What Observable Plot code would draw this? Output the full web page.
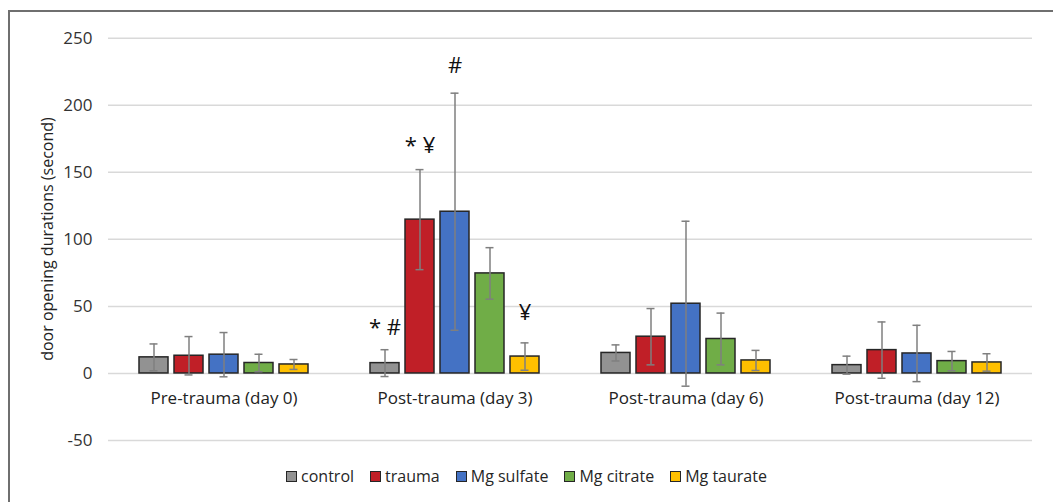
<!DOCTYPE html>
<html>
<head>
<meta charset="utf-8">
<script src="https://cdn.jsdelivr.net/npm/d3@7"></script>
<script src="https://cdn.jsdelivr.net/npm/@observablehq/plot@0.6"></script>
<style>
  html, body { margin: 0; padding: 0; background: #fff; }
  #root { position: relative; width: 1053px; height: 502px; overflow: hidden; font-family: "Open Sans", "Liberation Sans", sans-serif; }
  #frame { position: absolute; left: 8px; top: 10px; width: 1100px; height: 600px; border-left: 2px solid #6f6f6f; border-top: 2px solid #6f6f6f; }
  #chart { position: absolute; left: 0; top: 0; }
  #ylabel { position: absolute; left: 47px; top: 239px; transform: translate(-50%, -50%) rotate(-90deg); white-space: nowrap; font-size: 16px; color: #222; }
  #legend { position: absolute; top: 465px; left: 0; width: 1053px; display: flex; justify-content: center; font-size: 16px; color: #262626; }
  .item { display: flex; align-items: center; margin: 0 8px; }
  .sw { width: 9px; height: 9px; border: 1.5px solid #262626; margin-right: 4px; }
</style>
</head>
<body>
<div id="root">
  <div id="frame"></div>
  <div id="chart"></div>
  <div id="ylabel"></div>
  <div id="legend"></div>
</div>
<script>
const groups = ["Pre-trauma (day 0)", "Post-trauma (day 3)", "Post-trauma (day 6)", "Post-trauma (day 12)"];
const series = ["control", "trauma", "Mg sulfate", "Mg citrate", "Mg taurate"];
const colors = ["#929292", "#c01f27", "#4472c4", "#70ad47", "#ffc000"];
// means per series, across the four groups
const means = {
  "control":    [12, 7.7, 15.3, 6.2],
  "trauma":     [13.2, 114.7, 27.4, 17.4],
  "Mg sulfate": [14, 120.6, 52, 14.9],
  "Mg citrate": [7.8, 74.6, 25.7, 9.2],
  "Mg taurate": [6.7, 12.6, 9.7, 8.2]
};
// standard deviations per series, across the four groups
const sds = {
  "control":    [10, 10, 6, 6.7],
  "trauma":     [14.3, 37.3, 21, 21],
  "Mg sulfate": [16.5, 88.4, 61.5, 21],
  "Mg citrate": [6.5, 19.2, 19.3, 7.2],
  "Mg taurate": [3.7, 10.2, 7.5, 6.5]
};
const annotGroup = ["Post-trauma (day 3)", "Post-trauma (day 3)", "Post-trauma (day 3)", "Post-trauma (day 3)"];
const annotSeries = ["control", "trauma", "Mg sulfate", "Mg taurate"];
const annotText = ["* #", "* ¥", "#", "¥"];
const annotY = [34, 170, 229, 45];
const yTicks = [-50, 0, 50, 100, 150, 200, 250];
const yLabel = "door opening durations (second)";

const data = [];
groups.forEach((g, gi) => series.forEach(s => data.push({group: g, series: s, v: means[s][gi], sd: sds[s][gi]})));
const annots = annotText.map((t, i) => ({group: annotGroup[i], series: annotSeries[i], text: t, y: annotY[i]}));

const font = '"Open Sans", "Liberation Sans", sans-serif';
const chart = Plot.plot({
  width: 1053,
  height: 460,
  marginLeft: 107,
  marginRight: 20,
  marginTop: 37.7,
  marginBottom: 20,
  style: {fontFamily: font, fontSize: "17px", color: "#262626", background: "transparent"},
  fx: {domain: groups, padding: 0, axis: null},
  x: {domain: series, paddingInner: 0.18, paddingOuter: 0.85, axis: null},
  y: {domain: [-50, 250], axis: null},
  color: {domain: series, range: colors},
  marks: [
    Plot.ruleY(yTicks, {stroke: "#d9d9d9", strokeWidth: 1.5}),
    Plot.axisY({ticks: yTicks, tickSize: 0, tickPadding: 16, label: null, fontSize: 17, fill: "#333", tickFormat: d => d < 0 ? "-" + Math.abs(d) : String(d)}),
    Plot.barY(data, {fx: "group", x: "series", y: "v", fill: "series", stroke: "#262626", strokeWidth: 1.5}),
    Plot.ruleX(data, {fx: "group", x: "series", y1: d => d.v - d.sd, y2: d => d.v + d.sd, stroke: "#7f7f7f", strokeWidth: 1.5}),
    Plot.tickY(data, {fx: "group", x: "series", y: d => d.v + d.sd, stroke: "#7f7f7f", strokeWidth: 1.5, insetLeft: 10.5, insetRight: 10.5}),
    Plot.tickY(data, {fx: "group", x: "series", y: d => d.v - d.sd, stroke: "#7f7f7f", strokeWidth: 1.5, insetLeft: 10.5, insetRight: 10.5}),
    Plot.text(groups, {fx: d => d, y: () => -19, text: d => d, fontSize: 17, fill: "#222"}),
    Plot.text(annots, {fx: "group", x: "series", y: "y", text: "text", fontSize: 22, fill: "#111"})
  ]
});
document.getElementById("chart").appendChild(chart);
document.getElementById("ylabel").textContent = yLabel;

const legend = document.getElementById("legend");
series.forEach((s, i) => {
  const it = document.createElement("div");
  it.className = "item";
  const sw = document.createElement("span");
  sw.className = "sw";
  sw.style.background = colors[i];
  const lb = document.createElement("span");
  lb.textContent = s;
  it.appendChild(sw);
  it.appendChild(lb);
  legend.appendChild(it);
});
</script>
</body>
</html>
